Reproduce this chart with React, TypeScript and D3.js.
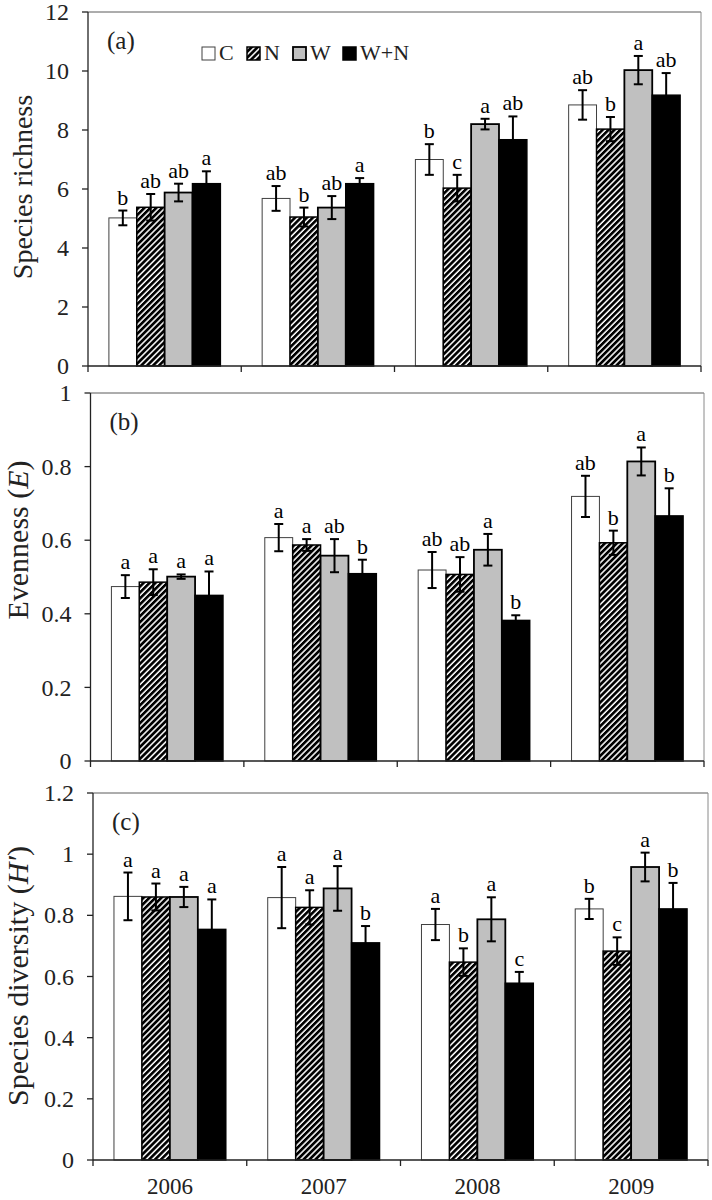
import React from 'react';
import * as d3 from 'd3';

// ---- data ----
const years = ['2006', '2007', '2008', '2009'];
const treatments = ['C', 'N', 'W', 'W+N'];

// rows: years, columns: treatments (C, N, W, W+N)
const richnessMean = [
  [5.02, 5.38, 5.88, 6.18],
  [5.68, 5.05, 5.37, 6.18],
  [7.0, 6.03, 8.2, 7.67],
  [8.85, 8.03, 10.03, 9.18],
];
const richnessErr = [
  [0.25, 0.45, 0.3, 0.42],
  [0.42, 0.32, 0.39, 0.19],
  [0.52, 0.45, 0.18, 0.79],
  [0.5, 0.41, 0.48, 0.75],
];
const richnessLetters = [
  ['b', 'ab', 'ab', 'a'],
  ['ab', 'b', 'ab', 'a'],
  ['b', 'c', 'a', 'ab'],
  ['ab', 'b', 'a', 'ab'],
];
const richnessTicks = [0, 2, 4, 6, 8, 10, 12];

const evennessMean = [
  [0.474, 0.486, 0.501, 0.45],
  [0.607, 0.587, 0.558, 0.509],
  [0.519, 0.507, 0.574, 0.382],
  [0.719, 0.593, 0.814, 0.666],
];
const evennessErr = [
  [0.031, 0.035, 0.006, 0.065],
  [0.037, 0.016, 0.045, 0.038],
  [0.049, 0.047, 0.043, 0.014],
  [0.056, 0.033, 0.038, 0.075],
];
const evennessLetters = [
  ['a', 'a', 'a', 'a'],
  ['a', 'a', 'ab', 'b'],
  ['ab', 'ab', 'a', 'b'],
  ['ab', 'b', 'a', 'b'],
];
const evennessTicks = [0, 0.2, 0.4, 0.6, 0.8, 1];

const diversityMean = [
  [0.862, 0.86, 0.86, 0.754],
  [0.858, 0.826, 0.888, 0.71],
  [0.77, 0.647, 0.787, 0.578],
  [0.821, 0.683, 0.958, 0.821],
];
const diversityErr = [
  [0.078, 0.044, 0.033, 0.098],
  [0.1, 0.056, 0.073, 0.055],
  [0.051, 0.045, 0.072, 0.037],
  [0.033, 0.045, 0.047, 0.085],
];
const diversityLetters = [
  ['a', 'a', 'a', 'a'],
  ['a', 'a', 'a', 'b'],
  ['a', 'b', 'a', 'c'],
  ['b', 'c', 'a', 'b'],
];
const diversityTicks = [0, 0.2, 0.4, 0.6, 0.8, 1, 1.2];

// ---- layout ----
const FONT = "'Liberation Serif', 'Times New Roman', Times, serif";
const W = 712;
const H = 1200;

type Panel = {
  tag: string;
  mean: number[][];
  err: number[][];
  letters: string[][];
  ticks: number[];
  left: number;
  right: number;
  top: number;
  bottom: number;
  titleX: number;
  titleY: number;
  titleSize: number;
  title: React.ReactNode;
  legend?: boolean;
  xLabels?: boolean;
};

const panels: Panel[] = [
  {
    tag: '(a)', mean: richnessMean, err: richnessErr, letters: richnessLetters, ticks: richnessTicks,
    left: 88, right: 701, top: 12, bottom: 366,
    titleX: 32, titleY: 187, titleSize: 28,
    title: 'Species richness', legend: true,
  },
  {
    tag: '(b)', mean: evennessMean, err: evennessErr, letters: evennessLetters, ticks: evennessTicks,
    left: 90.5, right: 704, top: 393, bottom: 761,
    titleX: 28, titleY: 540, titleSize: 30,
    title: (
      <>
        Evenness (<tspan style={{ fontStyle: 'italic' }}>E</tspan>)
      </>
    ),
  },
  {
    tag: '(c)', mean: diversityMean, err: diversityErr, letters: diversityLetters, ticks: diversityTicks,
    left: 93, right: 708, top: 793, bottom: 1160,
    titleX: 28, titleY: 976, titleSize: 30,
    title: (
      <>
        Species diversity (<tspan style={{ fontStyle: 'italic' }}>H′</tspan>)
      </>
    ),
    xLabels: true,
  },
];

const fills = ['#ffffff', 'url(#hatch)', '#c0c0c0', '#000000'];
const strokes = ['#404040', '#000000', '#000000', '#000000'];
const strokeWidths = [1, 1.5, 1.8, 1.5];
const legendX = [202, 247, 293, 343];

const fmt = (d: number) => String(+d.toFixed(1));

const txt = (size: number): React.CSSProperties => ({ fontFamily: FONT, fontSize: size + 'px' });

function PanelChart({ p }: { p: Panel }) {
  const y = d3.scaleLinear().domain([0, p.ticks[p.ticks.length - 1]]).range([p.bottom, p.top]);
  const x0 = d3.scaleBand().domain(years).range([p.left, p.right]).padding(0);
  const x1 = d3
    .scaleBand()
    .domain(treatments)
    .range([0, x0.bandwidth()])
    .paddingInner(0)
    .paddingOuter(0.75);
  const bw = x1.bandwidth();
  const cap = 4.5;

  return (
    <g>
      {/* frame: top & right */}
      <line x1={p.left} x2={p.right} y1={p.top} y2={p.top} stroke="#5a5a5a" strokeWidth={1} />
      <line x1={p.right} x2={p.right} y1={p.top} y2={p.bottom} stroke="#8a8a8a" strokeWidth={1} />

      {/* bars */}
      {years.map((yr, i) => (
        <g key={yr}>
          {treatments.map((t, j) => {
            const v = p.mean[i][j];
            const xx = (x0(yr) as number) + (x1(t) as number);
            return (
              <rect
                key={t}
                x={xx}
                y={y(v)}
                width={bw}
                height={p.bottom - y(v)}
                fill={fills[j]}
                stroke={strokes[j]}
                strokeWidth={strokeWidths[j]}
              />
            );
          })}
        </g>
      ))}

      {/* error bars */}
      {years.map((yr, i) => (
        <g key={'e' + yr}>
          {treatments.map((t, j) => {
            const v = p.mean[i][j];
            const e = p.err[i][j];
            const cx = (x0(yr) as number) + (x1(t) as number) + bw / 2;
            const hi = y(v + e);
            const lo = y(v - e);
            return (
              <g key={t} stroke="#000" strokeWidth={2}>
                <line x1={cx} x2={cx} y1={hi} y2={lo} />
                <line x1={cx - cap} x2={cx + cap} y1={hi} y2={hi} />
                <line x1={cx - cap} x2={cx + cap} y1={lo} y2={lo} />
              </g>
            );
          })}
        </g>
      ))}

      {/* significance letters */}
      {years.map((yr, i) => (
        <g key={'l' + yr}>
          {treatments.map((t, j) => {
            const v = p.mean[i][j];
            const e = p.err[i][j];
            const cx = (x0(yr) as number) + (x1(t) as number) + bw / 2;
            return (
              <text key={t} x={cx} y={y(v + e) - 6} textAnchor="middle" style={txt(22)} fill="#000">
                {p.letters[i][j]}
              </text>
            );
          })}
        </g>
      ))}

      {/* y axis */}
      <line x1={p.left} x2={p.left} y1={p.top} y2={p.bottom} stroke="#222" strokeWidth={1.3} />
      {p.ticks.map((tk) => (
        <g key={tk}>
          <line x1={p.left - 6} x2={p.left} y1={y(tk)} y2={y(tk)} stroke="#222" strokeWidth={1.3} />
          <text x={p.left - 19} y={y(tk)} dy="0.34em" textAnchor="end" style={txt(24)} fill="#222">
            {fmt(tk)}
          </text>
        </g>
      ))}

      {/* x axis */}
      <line x1={p.left} x2={p.right} y1={p.bottom} y2={p.bottom} stroke="#222" strokeWidth={1.3} />
      {[...years.map((yr) => x0(yr) as number), p.right].map((xx, k) => (
        <line key={k} x1={xx} x2={xx} y1={p.bottom} y2={p.bottom + 6} stroke="#222" strokeWidth={1.3} />
      ))}
      {p.xLabels &&
        years.map((yr) => (
          <text
            key={yr}
            x={(x0(yr) as number) + x0.bandwidth() / 2}
            y={p.bottom + 34}
            textAnchor="middle"
            style={txt(23)}
            fill="#222"
          >
            {yr}
          </text>
        ))}

      {/* panel tag */}
      <text x={p.left + 19} y={p.top + 37} style={txt(25)} fill="#222">
        {p.tag}
      </text>

      {/* y title */}
      <text
        transform={`translate(${p.titleX},${p.titleY}) rotate(-90)`}
        textAnchor="middle"
        style={txt(p.titleSize)}
        fill="#222"
      >
        {p.title}
      </text>

      {/* legend */}
      {p.legend &&
        treatments.map((t, j) => (
          <g key={'lg' + t}>
            <rect
              x={legendX[j]}
              y={p.top + 35}
              width={13}
              height={13}
              fill={fills[j]}
              stroke={strokes[j]}
              strokeWidth={strokeWidths[j]}
            />
            <text x={legendX[j] + 17} y={p.top + 48} style={txt(22)} fill="#222">
              {t}
            </text>
          </g>
        ))}
    </g>
  );
}

export default function App() {
  return (
    <svg
      width={W}
      height={H}
      viewBox={`0 0 ${W} ${H}`}
      style={{ position: 'absolute', left: 0, top: 0, background: '#fff' }}
    >
      <defs>
        <pattern
          id="hatch"
          patternUnits="userSpaceOnUse"
          width={4.2}
          height={4.2}
          patternTransform="rotate(45)"
        >
          <rect x={0} y={0} width={4.2} height={4.2} fill="#fff" />
          <rect x={0} y={0} width={2.7} height={4.2} fill="#000" />
        </pattern>
      </defs>
      <rect x={0} y={0} width={W} height={H} fill="#fff" />
      {panels.map((p) => (
        <PanelChart key={p.tag} p={p} />
      ))}
    </svg>
  );
}
